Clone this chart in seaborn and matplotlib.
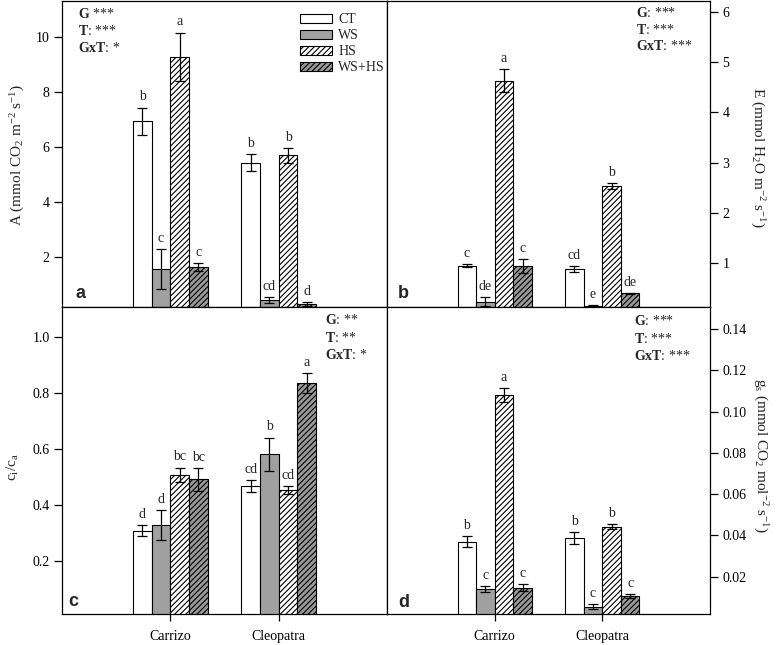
import numpy as np
import pandas as pd
import matplotlib
matplotlib.use("Agg")
import matplotlib.pyplot as plt
import seaborn as sns
from matplotlib.patches import Patch
from matplotlib.container import BarContainer
from matplotlib.ticker import FormatStrFormatter

# ---------------- data ----------------
genotypes = ["Carrizo", "Cleopatra"]
treatments = ["CT", "WS", "HS", "WS+HS"]

# Panel a: A (net photosynthesis)
A_carrizo = [6.93, 1.55, 9.28, 1.62]
A_cleopatra = [5.43, 0.42, 5.69, 0.28]
A_err_carrizo = [0.50, 0.72, 0.88, 0.15]
A_err_cleopatra = [0.30, 0.12, 0.27, 0.07]
A_letters_carrizo = ["b", "c", "a", "c"]
A_letters_cleopatra = ["b", "cd", "b", "d"]

# Panel b: E (transpiration)
E_carrizo = [0.95, 0.23, 4.63, 0.95]
E_cleopatra = [0.89, 0.15, 2.53, 0.40]
E_err_carrizo = [0.03, 0.09, 0.23, 0.14]
E_err_cleopatra = [0.06, 0.01, 0.06, 0.01]
E_letters_carrizo = ["c", "de", "a", "c"]
E_letters_cleopatra = ["cd", "e", "b", "de"]

# Panel c: ci/ca
C_carrizo = [0.308, 0.328, 0.508, 0.491]
C_cleopatra = [0.468, 0.580, 0.453, 0.836]
C_err_carrizo = [0.020, 0.053, 0.025, 0.040]
C_err_cleopatra = [0.022, 0.060, 0.014, 0.035]
C_letters_carrizo = ["d", "d", "bc", "bc"]
C_letters_cleopatra = ["cd", "b", "cd", "a"]

# Panel d: gs (stomatal conductance)
G_carrizo = [0.0370, 0.0139, 0.1080, 0.0147]
G_cleopatra = [0.0386, 0.0054, 0.0441, 0.0106]
G_err_carrizo = [0.0025, 0.0013, 0.0035, 0.0015]
G_err_cleopatra = [0.0030, 0.0012, 0.0012, 0.0010]
G_letters_carrizo = ["b", "c", "a", "c"]
G_letters_cleopatra = ["b", "c", "b", "c"]

stats_a = [("G", " ***"), ("T", ": ***"), ("GxT", ": *")]
stats_b = [("G", ": ***"), ("T", ": ***"), ("GxT", ": ***")]
stats_c = [("G", ": **"), ("T", ": **"), ("GxT", ": *")]
stats_d = [("G", ": ***"), ("T", ": ***"), ("GxT", ": ***")]

ylabel_a = r"A (mmol CO$_2$ m$^{-2}$ s$^{-1}$)"
ylabel_b = r"E (mmol H$_2$O m$^{-2}$ s$^{-1}$)"
ylabel_c = r"c$_i$/c$_a$"
ylabel_d = r"g$_s$ (mmol CO$_2$ mol$^{-2}$ s$^{-1}$)"

# ---------------- style ----------------
sns.set_style("ticks")
plt.rcParams["font.family"] = ["Liberation Serif", "DejaVu Serif"]
plt.rcParams["mathtext.fontset"] = "custom"
plt.rcParams["mathtext.rm"] = "Liberation Serif"
plt.rcParams["mathtext.it"] = "Liberation Serif:italic"
plt.rcParams["mathtext.bf"] = "Liberation Serif:bold"
plt.rcParams["mathtext.default"] = "regular"
plt.rcParams["hatch.linewidth"] = 0.8
plt.rcParams["hatch.color"] = "black"

colors = {"CT": "#ffffff", "WS": "#a0a0a0", "HS": "#ffffff", "WS+HS": "#999999"}
hatches = {"CT": "", "WS": "", "HS": "//////", "WS+HS": "//////"}

W, H = 778, 645
fig = plt.figure(figsize=(W / 100, H / 100), dpi=100)


def px_rect(x0, x1, y_top, y_bot):
    return [x0 / W, 1 - y_bot / H, (x1 - x0) / W, (y_bot - y_top) / H]


ax_a = fig.add_axes(px_rect(62, 387, 0.5, 307))
ax_b = fig.add_axes(px_rect(387, 710, 0.5, 307))
ax_c = fig.add_axes(px_rect(62, 387, 307, 614.3))
ax_d = fig.add_axes(px_rect(387, 710, 307, 614.3))


def make_df(v_car, v_cle):
    rows = []
    for g, vals in zip(genotypes, [v_car, v_cle]):
        for t, v in zip(treatments, vals):
            rows.append({"genotype": g, "treatment": t, "value": v})
    return pd.DataFrame(rows)


BAR_W = 0.69


def draw_panel(ax, v_car, v_cle, e_car, e_cle, l_car, l_cle):
    df = make_df(v_car, v_cle)
    sns.barplot(data=df, x="genotype", y="value", hue="treatment",
                order=genotypes, hue_order=treatments, palette=colors,
                saturation=1, errorbar=None, width=BAR_W, edgecolor="black",
                linewidth=0.8, legend=False, ax=ax)
    errs = [e_car, e_cle]
    lets = [l_car, l_cle]
    vals = [v_car, v_cle]
    w = BAR_W / len(treatments)
    bars = [b for c in list(ax.containers) if isinstance(c, BarContainer)
            for b in c]
    for bar in bars:
        xc = bar.get_x() + bar.get_width() / 2
        j = int(round(xc))
        i = int(round((xc - j) / w + 1.5))
        bar.set_hatch(hatches[treatments[i]])
        v = vals[j][i]
        e = errs[j][i]
        ax.errorbar(xc, v, yerr=e, fmt="none", ecolor="black",
                    elinewidth=0.9, capsize=3.3, capthick=0.9, zorder=5)
        ax.annotate(lets[j][i], xy=(xc, v + e), xytext=(0, 3),
                    textcoords="offset points", ha="center", va="bottom",
                    fontsize=10)
    ax.set_xlim(-1, 2)
    ax.set_xlabel("")
    ax.set_ylabel("")
    for s in ax.spines.values():
        s.set_visible(True)
        s.set_color("black")
        s.set_linewidth(0.9)


draw_panel(ax_a, A_carrizo, A_cleopatra, A_err_carrizo, A_err_cleopatra,
           A_letters_carrizo, A_letters_cleopatra)
draw_panel(ax_b, E_carrizo, E_cleopatra, E_err_carrizo, E_err_cleopatra,
           E_letters_carrizo, E_letters_cleopatra)
draw_panel(ax_c, C_carrizo, C_cleopatra, C_err_carrizo, C_err_cleopatra,
           C_letters_carrizo, C_letters_cleopatra)
draw_panel(ax_d, G_carrizo, G_cleopatra, G_err_carrizo, G_err_cleopatra,
           G_letters_carrizo, G_letters_cleopatra)

ax_a.set_ylim(0.17, 11.33)
ax_a.set_yticks([2, 4, 6, 8, 10])
ax_b.set_ylim(0.13, 6.22)
ax_b.set_yticks([1, 2, 3, 4, 5, 6])
ax_c.set_ylim(0.01, 1.106)
ax_c.set_yticks([0.2, 0.4, 0.6, 0.8, 1.0])
ax_c.yaxis.set_major_formatter(FormatStrFormatter("%.1f"))
ax_d.set_ylim(0.0017, 0.1508)
ax_d.set_yticks([0.02, 0.04, 0.06, 0.08, 0.10, 0.12, 0.14])
ax_d.yaxis.set_major_formatter(FormatStrFormatter("%.2f"))

for ax in (ax_b, ax_d):
    ax.yaxis.tick_right()
for ax in (ax_a, ax_b, ax_c, ax_d):
    ax.tick_params(axis="y", direction="out", length=6, width=0.9, pad=3,
                   labelsize=10, colors="black")
for ax in (ax_a, ax_b):
    ax.set_xticks([])
for ax in (ax_c, ax_d):
    ax.set_xticks([0, 1])
    ax.set_xticklabels(genotypes)
    ax.tick_params(axis="x", direction="out", length=5, width=0.9, pad=6.5,
                   labelsize=10, colors="black")


def ftext(x, y, s, **kw):
    fig.text(x / W, 1 - y / H, s, **kw)


# stats annotations
def stats(x, ys, items):
    for (b, rest), y in zip(items, ys):
        ftext(x, y, r"$\mathbf{" + b + "}$" + rest, ha="left", va="baseline",
              fontsize=10)


stats(78, [18, 35, 52], stats_a)
stats(635.5, [17, 33.5, 50], stats_b)
stats(325, [324, 341.5, 359], stats_c)
stats(633.5, [325, 343, 360.5], stats_d)

# panel letters
for x, y, s in [(75, 298.5, "a"), (398, 298.5, "b"), (68, 606, "c"), (398, 607, "d")]:
    ftext(x, y, s, ha="left", va="baseline", fontsize=13, fontweight="bold",
          family="Liberation Sans")

# y labels
ftext(18, 155, ylabel_a, rotation=90, ha="center", va="center", fontsize=11)
ftext(757, 158, ylabel_b, rotation=270, ha="center", va="center", fontsize=11)
ftext(13, 467, ylabel_c, rotation=90, ha="center", va="center", fontsize=11)
ftext(760, 455, ylabel_d, rotation=270, ha="center", va="center", fontsize=11)

# legend
handles = [Patch(facecolor=colors[t], edgecolor="black", hatch=hatches[t],
                 linewidth=0.8, label=t) for t in treatments]
fig.legend(handles=handles, loc="upper left", bbox_to_anchor=(300 / W, 1 - 13 / H),
           frameon=False, borderpad=0, borderaxespad=0, handlelength=2.3,
           handleheight=0.6, handletextpad=0.45, labelspacing=0.22, fontsize=10)

fig.savefig("out.png", dpi=100)
